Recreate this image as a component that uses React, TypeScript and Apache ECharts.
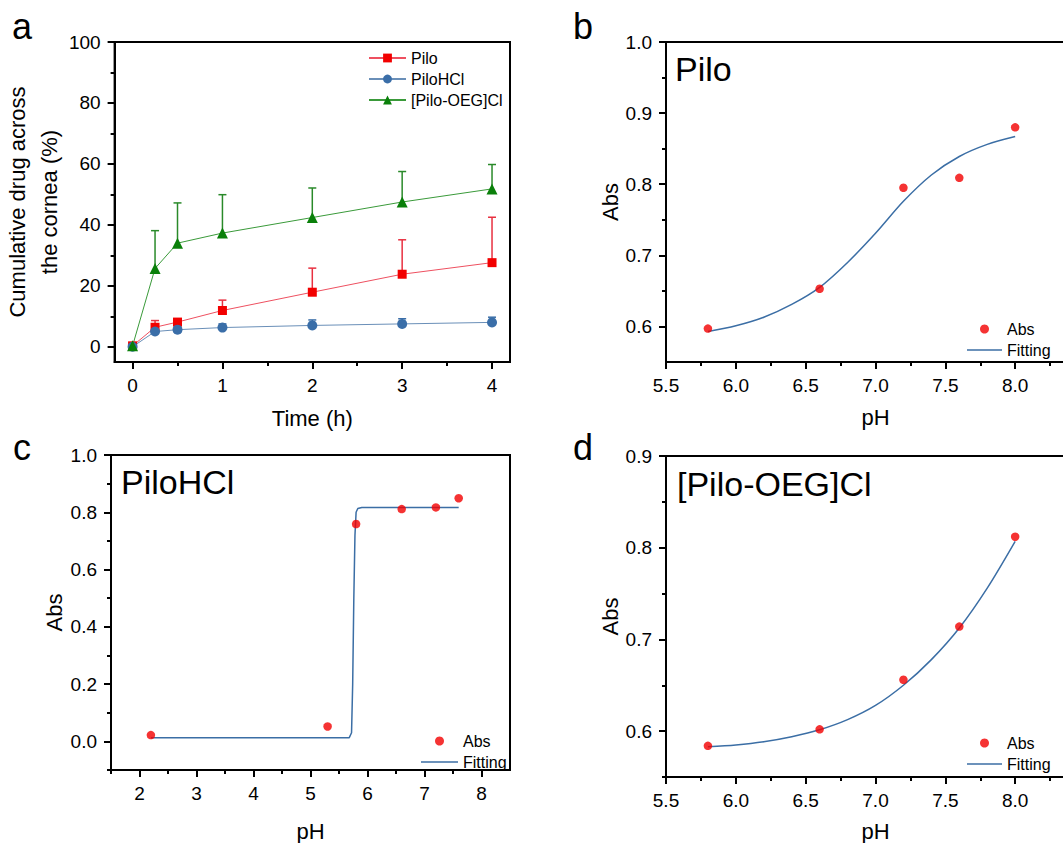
import React, { useEffect, useRef } from "react";
import * as echarts from "echarts";

const FONT = '"Liberation Sans", Arial, Helvetica, sans-serif';

// Panel a: cumulative permeation
const timeH = [0, 0.25, 0.5, 1, 2, 3, 4];
const piloMean = [0.3, 6.4, 8.1, 11.9, 17.9, 23.8, 27.6];
const piloErr = [0, 2.2, 1.0, 3.4, 7.9, 11.3, 14.9];
const hclMean = [0, 5.0, 5.6, 6.3, 7.0, 7.5, 8.0];
const hclErr = [0, 0.8, 0.8, 1.2, 1.8, 1.7, 1.7];
const oegMean = [0.3, 25.7, 34.0, 37.3, 42.4, 47.5, 51.8];
const oegErr = [0, 12.4, 13.2, 12.6, 9.7, 10.0, 8.0];

// Panel b: Pilo
const phB = [5.8, 6.6, 7.2, 7.6, 8.0];
const absB = [0.597, 0.653, 0.795, 0.809, 0.88];
const fitBx = [5.8, 6.0, 6.2, 6.4, 6.6, 6.8, 7.0, 7.2, 7.4, 7.6, 7.8, 8.0];
const fitBy = [0.593, 0.601, 0.613, 0.631, 0.655, 0.69, 0.731, 0.776, 0.813, 0.839, 0.856, 0.867];

// Panel c: PiloHCl
const phC = [2.2, 5.3, 5.8, 6.6, 7.2, 7.6];
const absC = [0.022, 0.052, 0.759, 0.811, 0.817, 0.849];
const fitCx = [2.2, 5.68, 5.72, 5.74, 5.76, 5.78, 5.8, 5.83, 5.9, 7.6];
const fitCy = [0.013, 0.013, 0.03, 0.2, 0.5, 0.72, 0.8, 0.813, 0.817, 0.817];

// Panel d: [Pilo-OEG]Cl
const phD = [5.8, 6.6, 7.2, 7.6, 8.0];
const absD = [0.584, 0.602, 0.656, 0.714, 0.812];
const fitDx = [5.8, 6.0, 6.2, 6.4, 6.6, 6.8, 7.0, 7.2, 7.4, 7.6, 7.8, 8.0];
const fitDy = [0.583, 0.585, 0.5885, 0.594, 0.6015, 0.6125, 0.628, 0.65, 0.678, 0.7125, 0.756, 0.807];

// Tick values
const aXMajor = [0, 1, 2, 3, 4];
const aXMinor = [0.5, 1.5, 2.5, 3.5];
const aYMajor = [0, 20, 40, 60, 80, 100];
const aYMinor = [10, 30, 50, 70, 90];
const bXMajor = [5.5, 6.0, 6.5, 7.0, 7.5, 8.0];
const bXMinor = [5.75, 6.25, 6.75, 7.25, 7.75, 8.25];
const bYMajor = [0.6, 0.7, 0.8, 0.9, 1.0];
const bYMinor = [0.65, 0.75, 0.85, 0.95];
const cXMajor = [2, 3, 4, 5, 6, 7, 8];
const cXMinor = [1.5, 2.5, 3.5, 4.5, 5.5, 6.5, 7.5];
const cYMajor = [0, 0.2, 0.4, 0.6, 0.8, 1.0];
const cYMinor = [-0.1, 0.1, 0.3, 0.5, 0.7, 0.9];
const dYMajor = [0.6, 0.7, 0.8, 0.9];
const dYMinor = [0.55, 0.65, 0.75, 0.85];

const RED = "#f20000";
const BLUE = "#3a6ea8";
const GREEN = "#0a800a";
const FIT = "#3b6ea5";
const LINE_ICON = "path://M0,0H40V1.6H0Z";

const fmt0 = (v: number) => String(Math.round(v));
const fmt1 = (v: number) => v.toFixed(1);

function mkAxes(
  dim: "x" | "y",
  gridIndex: number,
  min: number,
  max: number,
  major: number[],
  minor: number[],
  fmt: (v: number) => string,
  name: string,
  nameGap: number,
  nameLineHeight?: number
) {
  const position = dim === "x" ? "bottom" : "left";
  const main: any = {
    type: "value",
    gridIndex,
    min,
    max,
    position,
    splitLine: { show: false },
    name,
    nameLocation: "middle",
    nameGap,
    nameTextStyle: {
      fontSize: 22,
      color: "#000",
      fontFamily: FONT,
      lineHeight: nameLineHeight || 22,
    },
    axisLine: { show: true, onZero: false, lineStyle: { color: "#000", width: 2 } },
    axisTick: { show: true, customValues: major, length: 7, lineStyle: { color: "#000", width: 2 } },
    axisLabel: {
      show: true,
      customValues: major,
      formatter: fmt,
      margin: 14,
      fontSize: 19,
      color: "#000",
      fontFamily: FONT,
    },
    minorTick: { show: false },
  };
  const sub: any = {
    type: "value",
    gridIndex,
    min,
    max,
    position,
    splitLine: { show: false },
    axisLine: { show: false, onZero: false },
    axisTick: { show: true, customValues: minor, length: 4, lineStyle: { color: "#000", width: 2 } },
    axisLabel: { show: false },
    minorTick: { show: false },
  };
  return [main, sub];
}

function errSeries(name: string, color: string, means: number[], errs: number[]) {
  return {
    type: "custom",
    name,
    xAxisIndex: 0,
    yAxisIndex: 0,
    z: 1,
    encode: { x: 0, y: 1 },
    data: timeH.map((t, i) => [t, means[i], errs[i]]),
    renderItem: (params: any, api: any) => {
      const x = api.value(0);
      const y = api.value(1);
      const e = api.value(2);
      if (!e) return { type: "group", children: [] };
      const p0 = api.coord([x, y]);
      const p1 = api.coord([x, y + e]);
      return {
        type: "group",
        children: [
          { type: "line", shape: { x1: p0[0], y1: p0[1], x2: p1[0], y2: p1[1] }, style: { stroke: color, lineWidth: 1.5 } },
          { type: "line", shape: { x1: p1[0] - 4, y1: p1[1], x2: p1[0] + 4, y2: p1[1] }, style: { stroke: color, lineWidth: 1.5 } },
        ],
      };
    },
  };
}

function lineSeries(name: string, color: string, lineColor: string, symbol: string, size: number, means: number[]) {
  return {
    type: "line",
    name,
    xAxisIndex: 0,
    yAxisIndex: 0,
    z: 3,
    symbol,
    symbolSize: size,
    showSymbol: true,
    itemStyle: { color },
    lineStyle: { color: lineColor, width: 1 },
    data: timeH.map((t, i) => [t, means[i]]),
  };
}

function absSeries(axis: number, xs: number[], ys: number[]) {
  return {
    type: "scatter",
    name: "Abs",
    xAxisIndex: axis,
    yAxisIndex: axis,
    z: 4,
    symbol: "circle",
    symbolSize: 8.5,
    itemStyle: { color: RED },
    data: xs.map((x, i) => [x, ys[i]]),
  };
}

function fitSeries(axis: number, xs: number[], ys: number[], smooth: number | boolean) {
  return {
    type: "line",
    name: "Fitting",
    xAxisIndex: axis,
    yAxisIndex: axis,
    z: 3,
    symbol: "none",
    smooth,
    itemStyle: { color: FIT },
    lineStyle: { color: FIT, width: 1.5 },
    data: xs.map((x, i) => [x, ys[i]]),
  };
}

function legendFor(left: number, top: number, data: any[], itemWidth: number, itemHeight: number) {
  return {
    orient: "vertical",
    left,
    top,
    data,
    itemWidth,
    itemHeight,
    itemGap: 5,
    selectedMode: false,
    textStyle: { fontSize: 16, color: "#000", fontFamily: FONT, lineHeight: 16 },
  };
}

const absFitLegend = ["Abs", { name: "Fitting", icon: LINE_ICON }];

function txt(x: number, y: number, text: string, size: number) {
  return {
    type: "text",
    x,
    y,
    silent: true,
    style: { text, fontSize: size, fontFamily: FONT, fill: "#000", align: "left", verticalAlign: "middle" },
  };
}

export default function App() {
  const ref = useRef<HTMLDivElement>(null);
  useEffect(() => {
    if (!ref.current) return;
    const chart = echarts.init(ref.current, undefined, { renderer: "svg" });
    const gridStyle = { show: true, borderColor: "#000", borderWidth: 2, backgroundColor: "transparent" };
    const option: any = {
      animation: false,
      backgroundColor: "#fff",
      grid: [
        { left: 111, top: 42, width: 399, height: 320, ...gridStyle },
        { left: 666, top: 42, width: 419, height: 320, ...gridStyle },
        { left: 111, top: 455, width: 399, height: 323, ...gridStyle },
        { left: 666, top: 456, width: 419, height: 321, ...gridStyle },
      ],
      xAxis: [
        ...mkAxes("x", 0, -0.2, 4.2, aXMajor, aXMinor, fmt0, "Time (h)", 45),
        ...mkAxes("x", 1, 5.5, 8.5, bXMajor, bXMinor, fmt1, "pH", 44),
        ...mkAxes("x", 2, 1.5, 8.5, cXMajor, cXMinor, fmt0, "pH", 50),
        ...mkAxes("x", 3, 5.5, 8.5, bXMajor, bXMinor, fmt1, "pH", 43),
      ],
      yAxis: [
        ...mkAxes("y", 0, -5, 100, aYMajor, aYMinor, fmt0, "Cumulative drug across\nthe cornea (%)", 37, 32),
        ...mkAxes("y", 1, 0.55, 1.0, bYMajor, bYMinor, fmt1, "Abs", 44),
        ...mkAxes("y", 2, -0.1, 1.0, cYMajor, cYMinor, fmt1, "Abs", 46),
        ...mkAxes("y", 3, 0.55, 0.9, dYMajor, dYMinor, fmt1, "Abs", 44),
      ],
      legend: [
        legendFor(363, 45, ["Pilo", "PiloHCl", "[Pilo-OEG]Cl"], 37, 11),
        legendFor(962, 316, absFitLegend, 35, 9),
        legendFor(416, 728, absFitLegend, 37, 9),
        legendFor(962, 730, absFitLegend, 35, 9),
      ],
      graphic: [
        txt(12, 26, "a", 36),
        txt(573, 26, "b", 36),
        txt(13, 447, "c", 36),
        txt(573, 447, "d", 36),
        txt(675, 69, "Pilo", 34),
        txt(121, 482, "PiloHCl", 34),
        txt(677, 484, "[Pilo-OEG]Cl", 34),
      ],
      series: [
        errSeries("Pilo err", "#e83040", piloMean, piloErr),
        errSeries("PiloHCl err", BLUE, hclMean, hclErr),
        errSeries("OEG err", "#2a8a2a", oegMean, oegErr),
        lineSeries("Pilo", RED, "#ee5060", "rect", 9, piloMean),
        lineSeries("PiloHCl", BLUE, "#6a8fb8", "circle", 10, hclMean),
        lineSeries("[Pilo-OEG]Cl", GREEN, "#3a9a3a", "triangle", 11, oegMean),
        fitSeries(2, fitBx, fitBy, 0.3),
        absSeries(2, phB, absB),
        fitSeries(4, fitCx, fitCy, false),
        absSeries(4, phC, absC),
        fitSeries(6, fitDx, fitDy, 0.3),
        absSeries(6, phD, absD),
      ],
    };
    chart.setOption(option);
    return () => chart.dispose();
  }, []);
  return (
    <div
      ref={ref}
      style={{ position: "fixed", left: 0, top: 0, width: 1130, height: 843, background: "#fff" }}
    />
  );
}
